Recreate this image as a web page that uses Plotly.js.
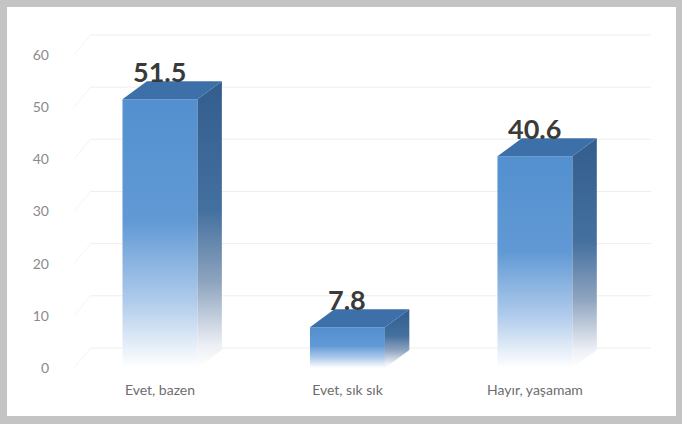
<!DOCTYPE html>
<html><head><meta charset="utf-8">
<script src="https://cdn.plot.ly/plotly-3.0.1.min.js"></script>
<style>
html,body{margin:0;padding:0;width:682px;height:424px;overflow:hidden;background:#c4c4c4;}
#chart{position:absolute;left:7px;top:7px;width:669px;height:409px;background:#fff;}
</style></head><body><div id="chart"></div>
<script>
const categories = ["Evet, bazen", "Evet, sık sık", "Hayır, yaşamam"];
const values = [51.5, 7.8, 40.6];
const valueLabels = ["51.5", "7.8", "40.6"];
const yTicks = [0, 10, 20, 30, 40, 50, 60];

// 3D look parameters (in axis units)
const HALF = 0.2, DX = 0.13, DY = 3.45, GRID_DY = 3.83;
const traces = [];

// back-wall gridlines
yTicks.forEach(t => {
  traces.push({type:'scatter', mode:'lines', x:[-0.46, -0.37], y:[t, t + GRID_DY],
    line:{color:'#f4f4f4', width:1}, hoverinfo:'skip', showlegend:false});
  traces.push({type:'scatter', mode:'lines', x:[-0.37, 2.62], y:[t + GRID_DY, t + GRID_DY],
    line:{color:'#eeeeee', width:1}, hoverinfo:'skip', showlegend:false});
});

values.forEach((v, c) => {
  // front face
  traces.push({type:'scatter', mode:'none', fill:'toself',
    x:[c-HALF, c+HALF, c+HALF, c-HALF, c-HALF], y:[0, 0, v, v, 0],
    fillgradient:{type:'vertical', start:0, stop:v,
      colorscale:[[0,'#ffffff'],[0.05,'#f0f5fb'],[0.25,'#afcbeb'],[0.55,'#6199d5'],[1,'#5390cf']]},
    hoverinfo:'skip', showlegend:false});
  // side face
  traces.push({type:'scatter', mode:'none', fill:'toself',
    x:[c+HALF, c+HALF+DX, c+HALF+DX, c+HALF, c+HALF], y:[0, DY, v+DY, v, 0],
    fillgradient:{type:'vertical', start:0, stop:v+DY,
      colorscale:[[0,'#ffffff'],[0.08,'#eceff4'],[0.3,'#8ea4bf'],[0.55,'#44709f'],[1,'#325d8d']]},
    hoverinfo:'skip', showlegend:false});
  // top face
  traces.push({type:'scatter', mode:'none', fill:'toself',
    x:[c-HALF, c+HALF, c+HALF+DX, c-HALF+DX, c-HALF], y:[v, v, v+DY, v+DY, v],
    fillcolor:'#3d6fa9', hoverinfo:'skip', showlegend:false});
});

const layout = {
  width:669, height:409, margin:{l:63, r:16, t:13, b:36},
  paper_bgcolor:'#ffffff', plot_bgcolor:'rgba(0,0,0,0)',
  showlegend:false,
  xaxis:{range:[-0.48, 2.667], tickvals:[0,1,2], ticktext:categories,
    showgrid:false, zeroline:false, showline:false, ticks:'',
    tickfont:{family:'Lato', size:14, color:'#6d6d6d'}},
  yaxis:{range:[-2.3, 66.7], tickvals:yTicks, showgrid:false, zeroline:false,
    showline:false, ticks:'', ticklabelstandoff:20,
    tickfont:{family:'Lato', size:14, color:'#8a8a8a'}},
  annotations: values.map((v, i) => ({x:i, y:v + 5.3, xref:'x', yref:'y',
    text:valueLabels[i], showarrow:false, yanchor:'middle',
    font:{family:'Lato', size:27, color:'#3a3a3a', weight:700}}))
};

Plotly.newPlot('chart', traces, layout, {staticPlot:true, displayModeBar:false});
</script></body></html>
